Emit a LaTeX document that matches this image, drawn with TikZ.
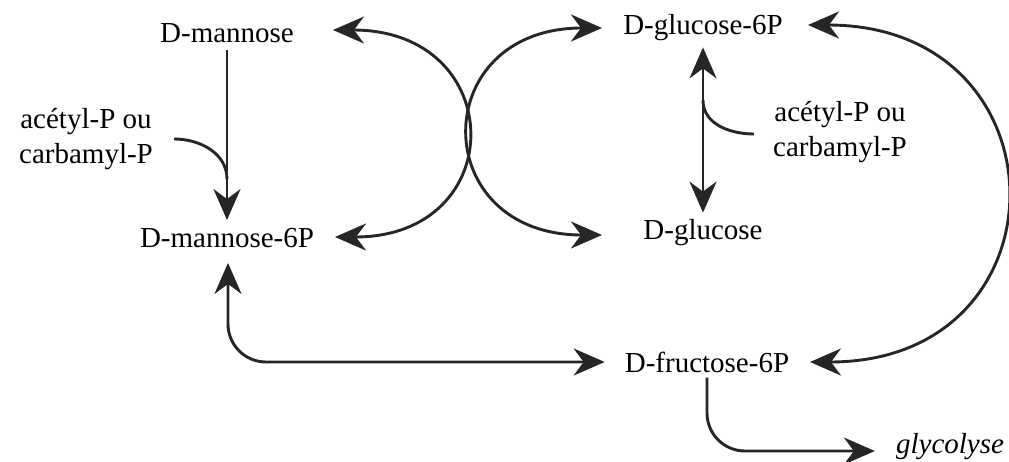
\documentclass[tikz,border=0pt]{standalone}
\usepackage{fontspec}
\setmainfont{Liberation Serif}
\usepackage{tikz}
\usetikzlibrary{arrows.meta,calc}

\begin{document}
\begin{tikzpicture}[x=1pt,y=1pt,
  >={Stealth[length=31pt,width=27pt,inset=10pt]},
  every node/.style={font=\fontsize{29}{35}\selectfont,inner sep=0pt},
  link/.style={line width=2.9pt,draw=black!85}]
  \useasboundingbox (0,0) rectangle (1009,-461);
  % --- compounds ---
  \node (mannose)   at (227,-33)  {D-mannose};
  \node (mannose6p) at (227,-238) {D-mannose-6P};
  \node (glucose6p) at (703,-28)  {D-glucose-6P};
  \node (glucose)   at (703,-233) {D-glucose};
  \node (fructose)  at (707,-362) {D-fructose-6P};
  \node[font=\fontsize{29}{35}\selectfont\itshape] (glycolyse) at (950,-447) {glycolyse};
  \node[align=center] (acetylL) at (86,-139)  {acétyl-P ou\\carbamyl-P};
  \node[align=center] (acetylR) at (840,-132) {acétyl-P ou\\carbamyl-P};
  % --- phosphorylation steps ---
  \draw[link,->] ([yshift=-7pt]mannose.south) -- coordinate[pos=0.76] (joinL)
                 ([yshift=8pt]mannose6p.north);
  \draw[link] ([xshift=21pt]acetylL.east) to[out=0,in=90] (joinL);
  \draw[link,<->] ([yshift=-6pt]glucose6p.south) -- coordinate[pos=0.32] (joinR)
                  ([yshift=7pt]glucose.north);
  \draw[link] ([xshift=-19pt,yshift=-2pt]acetylR.west) to[out=180,in=-90] (joinR);
  % --- crossing arcs ---
  \draw[link,<->] ([xshift=106pt,yshift=3pt]mannose.center)
                  to[out=0,in=0,looseness=2.17] ([xshift=108pt,yshift=1pt]mannose6p.center);
  \draw[link,<->] ([xshift=-101pt]glucose6p.center)
                  to[out=180,in=180,looseness=2.17] ([xshift=-101pt,yshift=-2pt]glucose.center);
  % --- isomerase arc ---
  \draw[link,<->] ([xshift=105pt,yshift=3pt]glucose6p.center)
                  to[out=0,in=0,looseness=1.98] ([xshift=103pt]fructose.center);
  % --- towards fructose and glycolyse ---
  \draw[link,<->,rounded corners=38pt] ([xshift=1pt,yshift=-15pt]mannose6p.south)
                  |- ([xshift=-20pt]fructose.west);
  \draw[link,->,rounded corners=38pt] ([yshift=-5pt]fructose.south)
                  |- ([xshift=-21pt,yshift=-4pt]glycolyse.west);
\end{tikzpicture}
\end{document}
